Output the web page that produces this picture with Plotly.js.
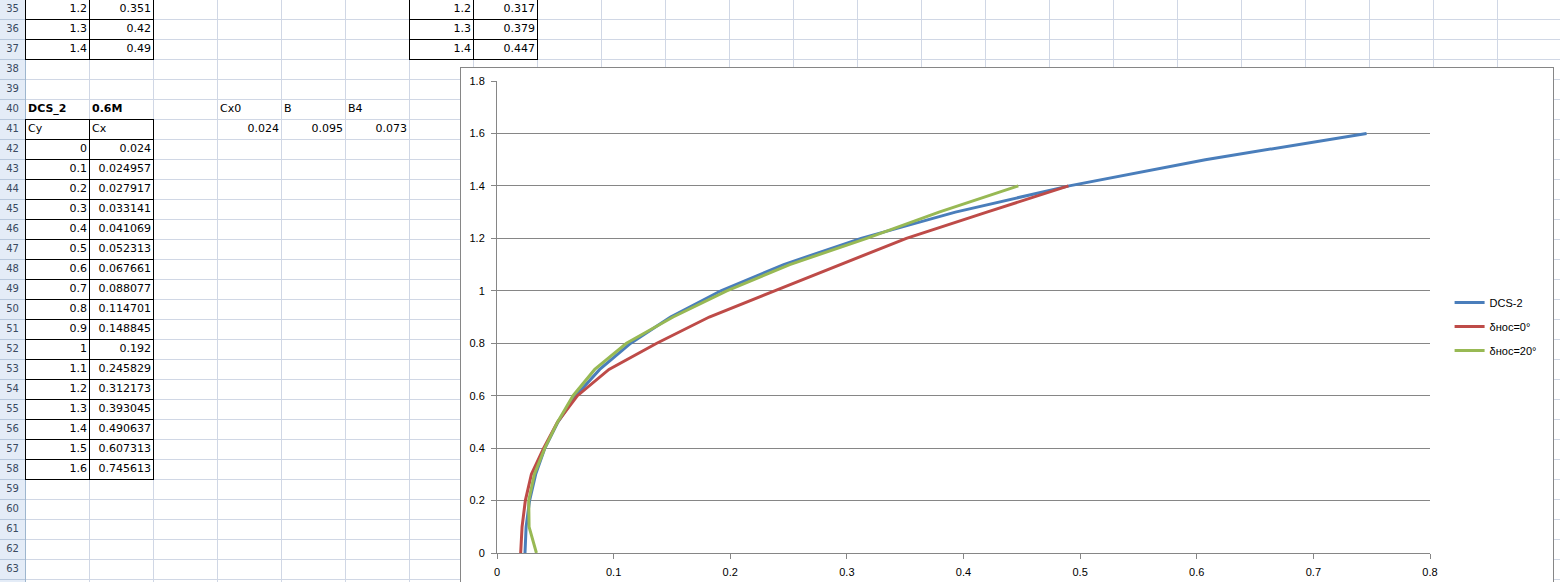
<!DOCTYPE html>
<html>
<head>
<meta charset="utf-8">
<script src="https://cdn.plot.ly/plotly-3.0.1.min.js"></script>
<style>
  html, body { margin:0; padding:0; background:#fff; }
  #page { position:relative; width:1560px; height:582px; overflow:hidden; background:#fff; }
  .ln { position:absolute; }
  .cell { position:absolute; height:20px; line-height:19px; font-family:"DejaVu Sans", "Liberation Sans", sans-serif; font-size:11px; color:#000; white-space:nowrap; box-sizing:border-box; }
  .num { text-align:right; padding-right:2px; }
  .txt { text-align:left; padding-left:3px; }
  .b { font-weight:bold; }
  .rh { position:absolute; left:0; width:25px; height:20px; line-height:19px; text-align:center; font-family:"DejaVu Sans", sans-serif; font-size:10px; color:#3a4a60; }
</style>
</head>
<body>
<div id="page">
  <div id="sheet"></div>
  <div id="chartbox" style="position:absolute;left:460px;top:67px;width:1092px;height:540px;border:1px solid #868686;background:#fff;"></div>
  <div id="chart" style="position:absolute;left:461px;top:68px;width:1200px;height:515px;"></div>
</div>
<script>
// ---------------- DATA ----------------
// DCS-2 (table A42:B58)
const cyDCS = [0, 0.1, 0.2, 0.3, 0.4, 0.5, 0.6, 0.7, 0.8, 0.9, 1, 1.1, 1.2, 1.3, 1.4, 1.5, 1.6];
const cxDCS = [0.024, 0.024957, 0.027917, 0.033141, 0.041069, 0.052313, 0.067661, 0.088077, 0.114701, 0.148845, 0.192, 0.245829, 0.312173, 0.393045, 0.490637, 0.607313, 0.745613];
// δнос=0° (left table, rows above view end at 1.2 / 1.3 / 1.4)
const cyNoc0 = [0, 0.1, 0.2, 0.3, 0.4, 0.5, 0.6, 0.7, 0.8, 0.9, 1, 1.1, 1.2, 1.3, 1.4];
const cxNoc0 = [0.0203, 0.0215, 0.0243, 0.0295, 0.040, 0.052, 0.069, 0.096, 0.137, 0.182, 0.238, 0.294, 0.351, 0.42, 0.49];
// δнос=20° (right table)
const cyNoc20 = [0, 0.1, 0.2, 0.3, 0.4, 0.5, 0.6, 0.7, 0.8, 0.9, 1, 1.1, 1.2, 1.3, 1.4];
const cxNoc20 = [0.0338, 0.0275, 0.0272, 0.032, 0.041, 0.052, 0.0652, 0.0838, 0.111, 0.151, 0.197, 0.251, 0.317, 0.379, 0.447];
// Parameters row
const paramNames = ["Cx0", "B", "B4"];
const paramValues = [0.024, 0.095, 0.073];
const seriesNames = ["DCS-2", "δнос=0°", "δнос=20°"];
const seriesColors = ["#4a7ebb", "#be4b48", "#98b954"];

// ---------------- SPREADSHEET ----------------
const sheet = document.getElementById('sheet');
const FIRST_ROW = 35, LAST_ROW = 63;
function colX(c) { return 25 + 64 * c; }       // c = 0 -> column A
function rowY(r) { return -1 + 20 * (r - FIRST_ROW); }
function line(x, y, w, h, color) {
  const d = document.createElement('div');
  d.className = 'ln';
  d.style.left = x + 'px'; d.style.top = y + 'px';
  d.style.width = w + 'px'; d.style.height = h + 'px';
  d.style.background = color;
  sheet.appendChild(d);
}
function cell(r, c, text, cls) {
  const d = document.createElement('div');
  d.className = 'cell ' + cls;
  d.style.left = colX(c) + 'px'; d.style.top = rowY(r) + 'px';
  d.style.width = '64px';
  d.textContent = text;
  sheet.appendChild(d);
}
// header column
line(0, 0, 25, 582, '#e4ecf7');
// gridlines
for (let r = FIRST_ROW; r <= LAST_ROW + 1; r++) {
  const y = rowY(r) + 20;
  if (y > 581) continue;
  line(26, y, 1560 - 26, 1, '#d0d7e5');
  line(0, y, 25, 1, '#b8c8dc');
}
for (let c = 1; c <= 24; c++) line(colX(c), 0, 1, 582, '#d0d7e5');
line(25, 0, 1, 582, '#9eb6ce');
// row headers
for (let r = FIRST_ROW; r <= LAST_ROW; r++) {
  const d = document.createElement('div');
  d.className = 'rh';
  d.style.top = rowY(r) + 'px';
  d.textContent = r;
  sheet.appendChild(d);
}
// bordered table helper
function box(r0, r1, c0, c1) {
  const x0 = colX(c0), x1 = colX(c1 + 1);
  const y0 = rowY(r0), y1 = rowY(r1) + 20;
  for (let r = r0; r <= r1 + 1; r++) { const y = rowY(r) ; if (y >= 0) line(x0, y, x1 - x0 + 1, 1, '#000'); }
  for (let c = c0; c <= c1 + 1; c++) line(colX(c), Math.max(y0, 0), 1, y1 - Math.max(y0, 0) + 1, '#000');
}
// top tables (last rows of δнос=0° and δнос=20° data)
const nTop = 3;
for (let i = 0; i < nTop; i++) {
  const k = cyNoc0.length - nTop + i;
  cell(FIRST_ROW + i, 0, String(cyNoc0[k]), 'num');
  cell(FIRST_ROW + i, 1, String(cxNoc0[k]), 'num');
  const k2 = cyNoc20.length - nTop + i;
  cell(FIRST_ROW + i, 6, String(cyNoc20[k2]), 'num');
  cell(FIRST_ROW + i, 7, String(cxNoc20[k2]), 'num');
}
box(FIRST_ROW, FIRST_ROW + 2, 0, 1);
box(FIRST_ROW, FIRST_ROW + 2, 6, 7);
// DCS_2 block
cell(40, 0, 'DCS_2', 'txt b');
cell(40, 1, '0.6M', 'txt b');
for (let i = 0; i < paramNames.length; i++) {
  cell(40, 3 + i, paramNames[i], 'txt');
  cell(41, 3 + i, String(paramValues[i]), 'num');
}
cell(41, 0, 'Cy', 'txt');
cell(41, 1, 'Cx', 'txt');
for (let i = 0; i < cyDCS.length; i++) {
  cell(42 + i, 0, String(cyDCS[i]), 'num');
  cell(42 + i, 1, String(cxDCS[i]), 'num');
}
box(41, 41 + cyDCS.length, 0, 1);

// ---------------- CHART ----------------
const xs = [cxDCS, cxNoc0, cxNoc20];
const ys = [cyDCS, cyNoc0, cyNoc20];
const traces = seriesNames.map((n, i) => ({
  type: 'scatter', mode: 'lines', name: n,
  x: xs[i], y: ys[i],
  line: { color: seriesColors[i], width: 3 },
  legendgroup: 'g' + i
}));
const layout = {
  width: 1200, height: 515,
  margin: { l: 36, r: 231, t: 13, b: 30, autoexpand: false },
  paper_bgcolor: 'rgba(0,0,0,0)', plot_bgcolor: '#fff',
  font: { family: '"Liberation Sans", Arial, sans-serif', size: 11, color: '#000' },
  xaxis: { range: [0, 0.8], tick0: 0, dtick: 0.1, showgrid: false, showline: true, linecolor: '#868686', linewidth: 1,
           ticks: 'outside', ticklen: 5, tickcolor: '#868686', zeroline: false, ticklabelstandoff: 4 },
  yaxis: { range: [0, 1.8], tick0: 0, dtick: 0.2, showgrid: true, gridcolor: '#868686', gridwidth: 1, showline: true,
           linecolor: '#868686', linewidth: 1, ticks: 'outside', ticklen: 5, tickcolor: '#868686', zeroline: false, ticklabelstandoff: 4 },
  showlegend: true,
  legend: { x: 1.021, xanchor: 'left', y: 0.48, yanchor: 'middle', tracegroupgap: 5,
            font: { size: 11 }, bgcolor: 'rgba(0,0,0,0)' }
};
Plotly.newPlot('chart', traces, layout, { displayModeBar: false, staticPlot: true });
</script>
</body>
</html>
